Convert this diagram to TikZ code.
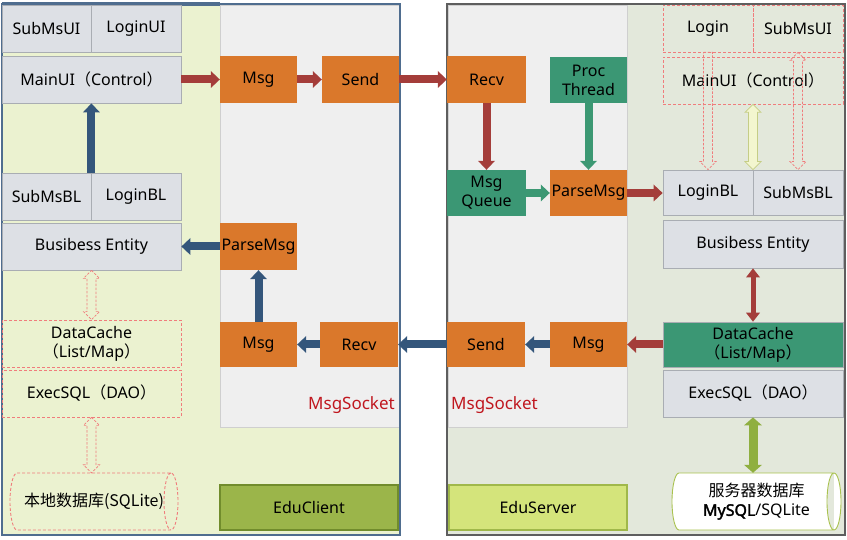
\documentclass[tikz,border=0pt]{standalone}
\usepackage{fontspec}
\setmainfont{Noto Sans}
\newfontfamily\cjk{Noto Sans CJK SC}
\newfontfamily\fakebold[FakeBold=2.2]{Noto Sans}
\usetikzlibrary{arrows.meta,calc}
\definecolor{leftbg}{HTML}{EBF2D0}
\definecolor{rightbg}{HTML}{E3E8DB}
\definecolor{panelfill}{HTML}{EFEFEF}
\definecolor{panelline}{HTML}{CFCFCF}
\definecolor{leftframe}{HTML}{4F6D8F}
\definecolor{rightframe}{HTML}{5E5E5E}
\definecolor{grayfill}{HTML}{DDE0E5}
\definecolor{grayline}{HTML}{A9ADB3}
\definecolor{orng}{HTML}{DA782B}
\definecolor{grn}{HTML}{3B9774}
\definecolor{dashred}{HTML}{F07C7C}
\definecolor{arrred}{HTML}{A43D3A}
\definecolor{arrblue}{HTML}{34567B}
\definecolor{arrgreen}{HTML}{3C9873}
\definecolor{arrolive}{HTML}{8FAF40}
\definecolor{yelfill}{HTML}{F3F6CF}
\definecolor{yelline}{HTML}{C5CD86}
\definecolor{educfill}{HTML}{9BB54A}
\definecolor{educline}{HTML}{718C2C}
\definecolor{edusfill}{HTML}{D4E47B}
\definecolor{edusline}{HTML}{A0B84A}
\definecolor{sockred}{HTML}{C0171F}
\definecolor{dbline}{HTML}{A9C24F}
\newcommand\fs{\fontsize{16}{19}\selectfont}
\newcommand\hollowdbl[3]{%
  \draw[#1] let \p1=#2, \p2=#3 in
    (\x1,\y1) -- (\x1+8pt,\y1-8pt) -- (\x1+4.5pt,\y1-8pt) -- (\x1+4.5pt,\y2+8pt)
    -- (\x1+8pt,\y2+8pt) -- (\x1,\y2) -- (\x1-8pt,\y2+8pt) -- (\x1-4.5pt,\y2+8pt)
    -- (\x1-4.5pt,\y1-8pt) -- (\x1-8pt,\y1-8pt) -- cycle;}
\newcommand\hollowdown[3]{%
  \draw[#1] let \p1=#2, \p2=#3 in
    (\x1-4.5pt,\y1) -- (\x1+4.5pt,\y1) -- (\x1+4.5pt,\y2+8pt)
    -- (\x1+8pt,\y2+8pt) -- (\x1,\y2) -- (\x1-8pt,\y2+8pt) -- (\x1-4.5pt,\y2+8pt) -- cycle;}
% horizontal cylinder between two corner coordinates
\newcommand\hcyl[3]{%
  \draw[#1] let \p1=#2, \p2=#3, \n1={(\y1-\y2)/2} in
  (\x1+7pt,\y1) -- (\x2-7pt,\y1) arc[start angle=90,end angle=-90,x radius=7pt,y radius=\n1]
  -- (\x1+7pt,\y2) arc[start angle=270,end angle=90,x radius=7pt,y radius=\n1] -- cycle
  (\x2-7pt,\y1) arc[start angle=90,end angle=270,x radius=7pt,y radius=\n1];}
\begin{document}
\begin{tikzpicture}[x=1pt,y=-1pt,
  sz/.style 2 args={minimum width=#1pt, minimum height=#2pt},
  base/.style={rectangle, inner sep=0pt, align=center, font=\fs, text=black},
  graybox/.style={base, fill=grayfill, draw=grayline, line width=0.8pt},
  dashbox/.style={base, draw=dashred, dash pattern=on 3pt off 2pt, line width=0.7pt},
  orangebox/.style={base, fill=orng},
  greenbox/.style={base, fill=grn},
  labelbox/.style={base, inner sep=0pt},
  blk/.style={line width=8pt, -{Triangle[length=9pt,width=17pt,line width=0pt]}},
  redarr/.style={blk, draw=arrred, fill=arrred},
  bluearr/.style={blk, draw=arrblue, fill=arrblue},
  greenarr/.style={blk, draw=arrgreen, fill=arrgreen},
  reddbl/.style={line width=5pt, draw=arrred, fill=arrred,
     {Triangle[length=9pt,width=14pt,line width=0pt]}-{Triangle[length=9pt,width=14pt,line width=0pt]}},
  olivedbl/.style={line width=9pt, draw=arrolive, fill=arrolive,
     {Triangle[length=8pt,width=18pt,line width=0pt]}-{Triangle[length=8pt,width=18pt,line width=0pt]}},
  hollow/.style={draw=dashred, dash pattern=on 2.5pt off 1.5pt, line width=0.7pt},
  yelarr/.style={draw=yelline, fill=yelfill, line width=0.8pt},
  socket/.style={inner sep=0pt, font=\fontsize{17}{19}\selectfont, text=sockred},
  cylL/.style={draw=dashred, dash pattern=on 3pt off 2pt, line width=0.9pt},
  cylR/.style={draw=dbline, line width=0.9pt, fill=white},
]
\useasboundingbox (0,0) rectangle (847,540);

% ---------- frames ----------
\fill[leftbg] (2,4) rectangle (400,535);
\filldraw[fill=panelfill, draw=panelline, line width=0.6pt] (220,5) rectangle (399,427);
\draw[leftframe, line width=2.2pt] (2,4) rectangle (400,535);
\draw[leftframe, line width=3.2pt] (2,4) -- (220,4);

\fill[rightbg] (447,4) rectangle (845,535);
\filldraw[fill=panelfill, draw=panelline, line width=0.6pt] (448,5) rectangle (627,427);
\draw[rightframe, line width=2.6pt] (447,4) rectangle (845,535);

% ---------- EduClient ----------
\node[graybox, sz={89}{47}] (subui) at (46.5,28.5) {SubMsUI};
\node[graybox, sz={90}{47}] (loginui) at (136,28.5) {LoginUI};
\node[graybox, sz={179}{47}] (mainui) at (91.5,79.5) {MainUI{\cjk （}Control{\cjk ）}};
\node[graybox, sz={89}{47}] (subbl) at (46.5,196.5) {SubMsBL};
\node[graybox, sz={90}{47}] (loginbl) at (136,196.5) {LoginBL};
\node[graybox, sz={179}{47}] (bent) at (91.5,246.5) {Busibess Entity};
\node[dashbox, sz={179}{47}] (cache) at (91.5,343.5) {DataCache\\{\cjk （}List/Map{\cjk ）}};
\node[dashbox, sz={179}{47}] (exec) at (91.5,393.5) {ExecSQL{\cjk （}DAO{\cjk ）}};
\coordinate (dbnw) at (10,473);
\coordinate (dbse) at (178,530);
\hcyl{cylL}{(dbnw)}{(dbse)}
\node[labelbox, sz={168}{57}] (db) at (94,501.5) {{\cjk 本地数据库(SQLite)}};

\node[orangebox, sz={77}{47}] (msgA) at (258.5,79.5) {Msg};
\node[orangebox, sz={77}{47}] (sendA) at (360.5,79.5) {Send};
\node[orangebox, sz={77}{47}] (parseA) at (258.5,246.5) {ParseMsg};
\node[orangebox, sz={77}{45}] (msgB) at (258.5,344.5) {Msg};
\node[orangebox, sz={78}{45}] (recvB) at (359,344.5) {Recv};
\node[socket, anchor=east] (sockA) at (395,405) {MsgSocket};
\node[base, sz={178}{45}, fill=educfill, draw=educline, line width=1.6pt] (educ) at (309,507.5) {EduClient};

% ---------- EduServer ----------
\node[orangebox, sz={79}{47}] (recvC) at (486.5,79.5) {Recv};
\node[greenbox, sz={77}{46}] (proc) at (588.5,80) {Proc\\Thread};
\node[greenbox, sz={79}{46}] (queue) at (486.5,193) {Msg\\Queue};
\node[orangebox, sz={77}{46}] (parseC) at (588.5,193) {ParseMsg};
\node[orangebox, sz={78}{45}] (sendD) at (486,344.5) {Send};
\node[orangebox, sz={77}{45}] (msgD) at (588.5,344.5) {Msg};
\node[socket, anchor=west] (sockB) at (451,405) {MsgSocket};
\node[base, sz={178}{45}, fill=edusfill, draw=edusline, line width=1.6pt] (edus) at (538,507.5) {EduServer};

\node[dashbox, sz={90}{47}] (loginR) at (708,28.5) {Login};
\node[dashbox, sz={90}{47}] (submsR) at (798,28.5) {SubMsUI};
\node[dashbox, sz={180}{47}] (mainR) at (753,80.5) {MainUI{\cjk （}Control{\cjk ）}};
\node[graybox, sz={90}{45}] (loginblR) at (708,192.5) {LoginBL};
\node[graybox, sz={90}{45}] (submsblR) at (798,192.5) {SubMsBL};
\node[graybox, sz={180}{48}] (bentR) at (753,244) {Busibess Entity};
\node[greenbox, sz={180}{45}, draw=grayline, line width=0.6pt] (cacheR) at (753,344.5) {DataCache\\{\cjk （}List/Map{\cjk ）}};
\node[graybox, sz={180}{47}] (execR) at (753,393.5) {ExecSQL{\cjk （}DAO{\cjk ）}};
\coordinate (dbRnw) at (672,473);
\coordinate (dbRse) at (841,530);
\hcyl{cylR}{(dbRnw)}{(dbRse)}
\node[labelbox, sz={169}{57}] (dbR) at (756.5,501.5) {{\cjk 服务器数据库}\\{\fakebold MySQL}/SQLite};

% ---------- connectors ----------
\draw[redarr] (mainui.east) -- (msgA.west);
\draw[redarr] (msgA.east) -- (sendA.west);
\draw[redarr] (sendA.east) -- (recvC.west);
\draw[redarr] (recvC.south) -- (queue.north);
\draw[greenarr] (proc.south) -- (parseC.north);
\draw[greenarr] (queue.east) -- (parseC.west);
\draw[redarr] (parseC.east) -- (parseC.east -| loginblR.west);
\draw[reddbl] (bentR.south) -- (cacheR.north);
\draw[redarr] (cacheR.west) -- (msgD.east);
\draw[bluearr] (msgD.west) -- (sendD.east);
\draw[bluearr] (sendD.west) -- (recvB.east);
\draw[bluearr] (recvB.west) -- (msgB.east);
\draw[bluearr] (msgB.north) -- (parseA.south);
\draw[bluearr] (parseA.west) -- (bent.east);
\draw[bluearr] (subbl.north east) -- (subbl.north east |- mainui.south);
\draw[olivedbl] (execR.south) -- (execR.south |- dbR.north);

\hollowdbl{hollow}{(bent.south)}{(cache.north)}
\hollowdbl{hollow}{(exec.south)}{(exec.south |- db.north)}
\hollowdown{hollow}{(loginR.south)}{(loginblR.north)}
\hollowdbl{hollow}{(submsR.south)}{(submsblR.north)}
\hollowdbl{yelarr}{(mainR.south)}{(loginblR.north east)}
\end{tikzpicture}
\end{document}
